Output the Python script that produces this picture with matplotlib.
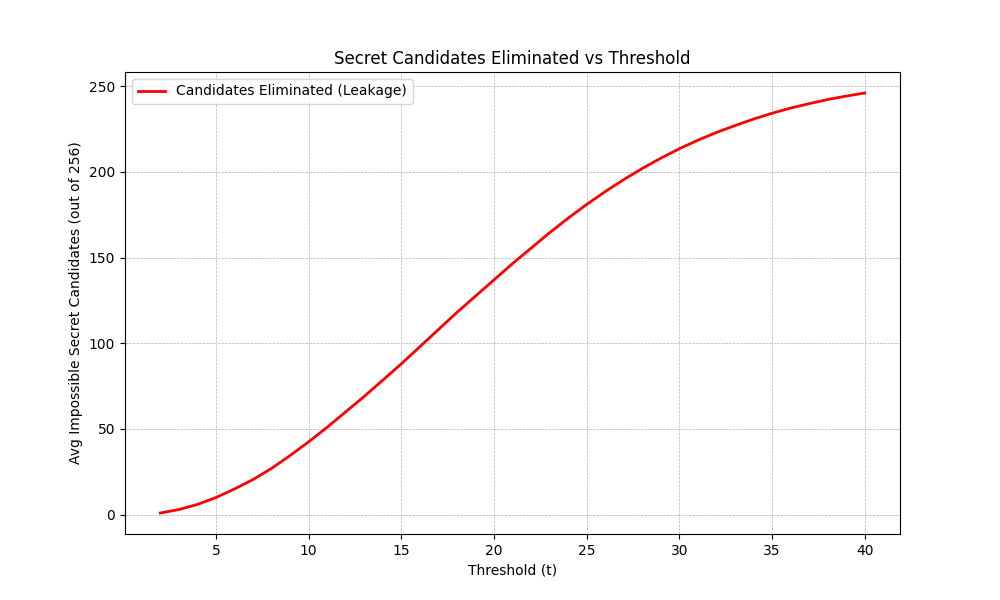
import matplotlib
matplotlib.use("Agg")
import matplotlib.pyplot as plt

# Umbral t y media de candidatos eliminados
thresholds = list(range(2, 41))
eliminated = [
    1.0, 3.0, 6.0, 10.0, 15.0, 20.5, 27.0, 34.5, 42.5,
    51.0, 60.0, 69.0, 78.5, 88.0, 98.0, 108.0, 118.0, 127.5, 137.0,
    146.5, 155.5, 164.5, 173.0, 181.0, 188.5, 195.5, 202.0, 208.0, 213.5,
    218.5, 223.0, 227.0, 230.8, 234.2, 237.2, 239.8, 242.2, 244.2, 246.0,
]

fig, ax = plt.subplots(figsize=(10, 6))
ax.plot(thresholds, eliminated, color="red", linewidth=2,
        label="Candidates Eliminated (Leakage)")
ax.set_title("Secret Candidates Eliminated vs Threshold")
ax.set_xlabel("Threshold (t)")
ax.set_ylabel("Avg Impossible Secret Candidates (out of 256)")
ax.grid(True, linestyle="--", linewidth=0.5)
ax.legend(loc="upper left")

fig.savefig("out.png", dpi=100)
plt.close(fig)
